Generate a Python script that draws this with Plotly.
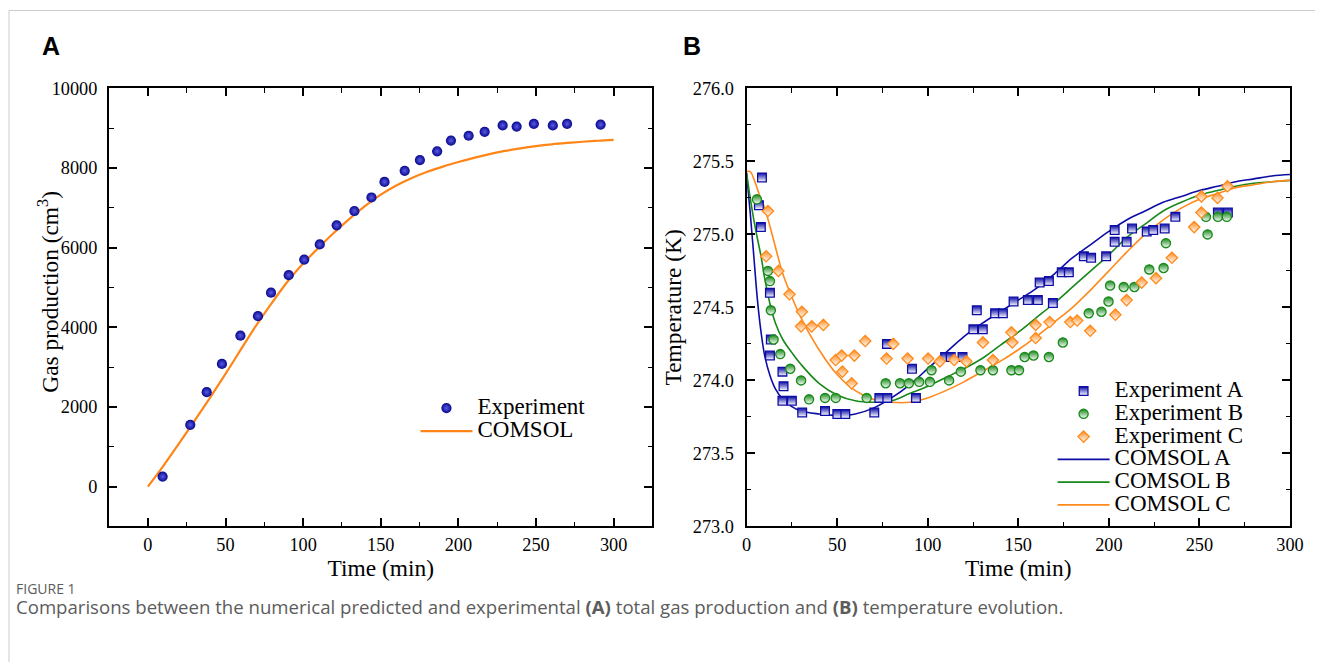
import plotly.graph_objects as go

W, H = 1329, 672

# ---------------- Panel A data ----------------
a_exp_t = [9.5, 27.3, 37.9, 47.7, 59.6, 70.9, 79.3, 90.7, 100.7, 110.7, 121.6, 133.0, 144.0,
           152.4, 165.4, 175.2, 186.3, 195.2, 206.6, 216.9, 228.5, 237.5, 248.6, 260.8, 270.0, 291.6]
a_exp_gas = [250, 1550, 2370, 3080, 3790, 4280, 4870, 5310, 5700, 6080, 6560, 6920, 7260,
             7650, 7930, 8200, 8420, 8690, 8810, 8910, 9070, 9040, 9110, 9070, 9110, 9090]
a_sim_t = [0, 10, 20, 30, 40, 50, 60, 70, 80, 90, 100, 110, 120, 130, 140, 150, 160, 170, 180,
           190, 200, 210, 220, 230, 240, 250, 260, 270, 280, 290, 300]
a_sim_gas = [0, 520, 1080, 1650, 2230, 2830, 3450, 4060, 4620, 5150, 5600, 6000, 6380, 6730,
             7050, 7330, 7560, 7750, 7905, 8035, 8150, 8255, 8350, 8430, 8495, 8550, 8595,
             8630, 8660, 8685, 8705]

# ---------------- Panel B data ----------------
b_expA_t = [6.8, 7.9, 8.5, 12.9, 13.4, 12.9, 19.8, 20.4, 19.8, 25.0, 30.7, 43.3, 50.1, 54.5,
            70.5, 73.3, 77.7, 77.5, 91.3, 93.5, 109.6, 112.7, 119.2, 125.2, 127.1, 130.4,
            137.2, 141.5, 147.4, 155.3, 160.8, 161.8, 166.9, 169.1, 174.0, 177.9, 186.2,
            190.2, 198.5, 203.2, 203.2, 209.8, 212.8, 220.9, 224.5, 230.8, 236.7, 260.2, 265.7]
b_expA_T = [275.20, 275.05, 275.39, 274.60, 274.28, 274.17, 274.06, 273.96, 273.86, 273.86,
            273.78, 273.79, 273.77, 273.77, 273.78, 273.88, 273.88, 274.25, 274.08, 273.88,
            274.16, 274.16, 274.16, 274.35, 274.48, 274.35, 274.46, 274.46, 274.54, 274.55,
            274.55, 274.67, 274.68, 274.53, 274.74, 274.74, 274.85, 274.84, 274.85, 274.95,
            275.03, 274.95, 275.04, 275.02, 275.03, 275.04, 275.12, 275.15, 275.15]

b_expB_t = [5.7, 11.8, 12.9, 13.4, 14.9, 18.6, 24.1, 30.1, 34.5, 43.3, 49.2, 66.3, 76.8, 84.7,
            89.6, 95.3, 101.2, 102.1, 111.8, 118.3, 129.1, 136.0, 146.2, 150.4, 153.5, 158.4,
            166.9, 174.6, 188.9, 195.9, 199.8, 200.7, 208.2, 214.1, 222.3, 230.2, 231.5,
            253.6, 254.5, 260.2, 265.1]
b_expB_T = [275.24, 274.75, 274.68, 274.48, 274.28, 274.18, 274.08, 274.00, 273.87, 273.88,
            273.88, 273.88, 273.98, 273.98, 273.98, 273.99, 273.99, 274.07, 274.00, 274.06,
            274.07, 274.07, 274.07, 274.07, 274.16, 274.17, 274.16, 274.26, 274.46, 274.47,
            274.54, 274.65, 274.64, 274.64, 274.76, 274.77, 274.94, 275.12, 275.00, 275.12,
            275.12]

b_expC_t = [11.8, 10.8, 17.6, 23.7, 30.5, 30.1, 36.0, 42.4, 49.2, 52.5, 52.9, 59.5, 58.0, 65.5,
            77.3, 81.0, 88.9, 100.2, 106.7, 114.6, 121.4, 130.5, 136.0, 146.2, 146.7, 159.6,
            159.6, 167.3, 178.7, 182.5, 189.7, 203.6, 209.8, 218.1, 226.0, 234.8, 247.1,
            251.1, 251.1, 260.0, 265.5]
b_expC_T = [275.16, 274.85, 274.75, 274.59, 274.47, 274.37, 274.37, 274.38, 274.14, 274.17,
            274.06, 274.17, 273.98, 274.27, 274.15, 274.25, 274.15, 274.15, 274.13, 274.14,
            274.13, 274.26, 274.14, 274.33, 274.26, 274.38, 274.29, 274.40, 274.40, 274.41,
            274.34, 274.45, 274.55, 274.67, 274.70, 274.84, 275.05, 275.15, 275.26, 275.25,
            275.33]

b_sim_t = [0, 2, 4, 6, 8, 10, 13, 16, 20, 25, 30, 40, 50, 60, 70, 80, 90, 100, 110, 120, 130,
           140, 150, 160, 170, 180, 190, 200, 210, 220, 230, 240, 250, 260, 270, 280, 290, 300]
b_simA_T = [275.42, 275.15, 274.85, 274.55, 274.33, 274.17, 274.03, 273.94, 273.87, 273.82,
            273.79, 273.77, 273.76, 273.77, 273.81, 273.88, 273.97, 274.08, 274.19, 274.30,
            274.39, 274.47, 274.55, 274.63, 274.73, 274.84, 274.93, 275.02, 275.10, 275.16,
            275.22, 275.26, 275.30, 275.33, 275.36, 275.38, 275.40, 275.41]
b_simB_T = [275.42, 275.25, 275.10, 274.97, 274.85, 274.70, 274.52, 274.39, 274.28, 274.19,
            274.11, 273.98, 273.90, 273.86, 273.85, 273.86, 273.91, 273.96, 274.02, 274.08,
            274.15, 274.24, 274.33, 274.43, 274.53, 274.64, 274.75, 274.86, 274.98, 275.07,
            275.16, 275.22, 275.27, 275.30, 275.33, 275.35, 275.36, 275.37]
b_simC_T = [275.43, 275.43, 275.38, 275.31, 275.24, 275.18, 275.05, 274.91, 274.73, 274.57,
            274.43, 274.21, 274.04, 273.93, 273.87, 273.85, 273.85, 273.88, 273.93, 273.99,
            274.06, 274.13, 274.21, 274.30, 274.40, 274.50, 274.62, 274.75, 274.88, 275.00,
            275.10, 275.18, 275.24, 275.28, 275.32, 275.34, 275.36, 275.37]

BLUE = "#0d0da6"
GREEN = "#18891a"
ORANGE = "#ff8a1c"
SERIF = "Liberation Serif"
LEG_PX = 23


# page-pixel helpers (layout only): map a target picture position to page position
def PX(x):
    return (x - 3) / 0.988


def PY(y):
    return (y - 10.8) / 0.968


def fx(x):
    return x / W


def fy(y):
    return 1 - y / H


fig = go.Figure()

# ---- Panel A traces ----
fig.add_trace(go.Scatter(
    x=a_sim_t, y=a_sim_gas, mode="lines", line=dict(color="#ff8518", width=2.2, shape="spline"),
    name=f"<span style='font-size:{LEG_PX}px'>COMSOL</span>", xaxis="x", yaxis="y",
    legend="legend", legendrank=2))
fig.add_trace(go.Scatter(
    x=a_exp_t, y=a_exp_gas, mode="markers",
    marker=dict(symbol="circle", size=10.2, color="#08088c",
                gradient=dict(type="radial", color="#5a5ae6"), line=dict(width=0)),
    name=f"<span style='font-size:{LEG_PX}px'>Experiment</span>", xaxis="x", yaxis="y",
    legend="legend", legendrank=1))

# ---- Panel B traces ----
for T, col, nm, rk in [(b_simA_T, BLUE, "COMSOL A", 4), (b_simB_T, GREEN, "COMSOL B", 5),
                       (b_simC_T, ORANGE, "COMSOL C", 6)]:
    fig.add_trace(go.Scatter(
        x=b_sim_t, y=T, mode="lines", line=dict(color=col, width=1.6, shape="spline"),
        name=f"<span style='font-size:{LEG_PX}px'>{nm}</span>", xaxis="x2", yaxis="y2",
        legend="legend2", legendrank=rk))

for tt, TT, col, sym, sz, nm, rk in [
        (b_expA_t, b_expA_T, BLUE, "square", 8.7, "Experiment A", 1),
        (b_expB_t, b_expB_T, GREEN, "circle", 9.2, "Experiment B", 2),
        (b_expC_t, b_expC_T, ORANGE, "diamond", 8.7, "Experiment C", 3)]:
    fig.add_trace(go.Scatter(
        x=tt, y=TT, mode="markers",
        marker=dict(symbol=sym, size=sz, color=col,
                    gradient=dict(type="vertical", color="white"),
                    line=dict(color=col, width=1.3)),
        name=f"<span style='font-size:{LEG_PX}px'>{nm}</span>", xaxis="x2", yaxis="y2",
        legend="legend2", legendrank=rk))

ax_common = dict(
    showline=True, linewidth=2, linecolor="black", mirror="allticks",
    ticks="inside", ticklen=8, tickwidth=1.6, tickcolor="black",
    showgrid=False, zeroline=False,
    tickfont=dict(family=SERIF, size=18.3, color="black"),
    title_font=dict(family=SERIF, size=23.4, color="black"),
)


def minor(d, t0):
    return dict(ticks="inside", ticklen=4.5, tickwidth=1.4, dtick=d, tick0=t0,
                tickcolor="black", showgrid=False)


xd_a = [fx(PX(107.3)), fx(PX(652))]
xd_b = [fx(PX(746.3)), fx(PX(1291))]
yd = [fy(PY(526)), fy(PY(89))]

fig.update_layout(
    width=W, height=H, margin=dict(l=0, r=0, t=0, b=0),
    paper_bgcolor="white", plot_bgcolor="white",
    showlegend=True,
    xaxis=dict(domain=xd_a, range=[-25, 325], tick0=0, dtick=50, minor=minor(25, 0),
               title=dict(text="Time (min)", standoff=3), ticklabelstandoff=1,
               anchor="y", **ax_common),
    yaxis=dict(domain=yd, range=[-1000, 10000], tick0=0, dtick=2000, tickformat="d",
               minor=minor(1000, 0), ticklabelstandoff=6, anchor="x", **ax_common),
    xaxis2=dict(domain=xd_b, range=[0, 300], tick0=0, dtick=50, minor=minor(25, 0),
                title=dict(text="Time (min)", standoff=3), ticklabelstandoff=1,
                anchor="y2", **ax_common),
    yaxis2=dict(domain=yd, range=[273, 276], tick0=273, dtick=0.5, tickformat=".1f",
                minor=minor(0.25, 273),
                title=dict(text="Temperature (K)", standoff=5),
                ticklabelstandoff=7, anchor="x2", **ax_common),
    legend=dict(x=fx(416.4), y=fy(393.3), xanchor="left", yanchor="top",
                bgcolor="rgba(0,0,0,0)", borderwidth=0, itemwidth=52,
                font=dict(family=SERIF, size=15.4, color="black"),
                traceorder="normal", itemclick=False),
    legend2=dict(x=fx(1062.8), y=fy(375.9), xanchor="left", yanchor="top",
                 bgcolor="rgba(0,0,0,0)", borderwidth=0, itemwidth=52,
                 font=dict(family=SERIF, size=15.2, color="black"),
                 traceorder="normal", itemclick=False),
)

caption = ("<span style='font-size:14px'>FIGURE 1</span><br>"
           "<span style='font-size:18.6px'>Comparisons between the numerical predicted and "
           "experimental <b>(A)</b> total gas production and <b>(B)</b> temperature "
           "evolution.</span>")

annotations = [
    dict(text="Gas production (cm<sup>3</sup>)", x=fx(43.5), y=fy(290.5), textangle=-90,
         xref="paper", yref="paper", xanchor="center", yanchor="middle", showarrow=False,
         font=dict(family=SERIF, size=23.4, color="black")),
    dict(text="<b>A</b>", x=fx(36), y=fy(36.7), xref="paper", yref="paper",
         xanchor="left", yanchor="middle", showarrow=False,
         font=dict(family="Liberation Sans", size=25, color="black")),
    dict(text="<b>B</b>", x=fx(686.1), y=fy(36.7), xref="paper", yref="paper",
         xanchor="left", yanchor="middle", showarrow=False,
         font=dict(family="Liberation Sans", size=25, color="black")),
    dict(text=caption, x=fx(9), y=fy(607.5), xref="paper", yref="paper", align="left",
         xanchor="left", yanchor="middle", showarrow=False,
         font=dict(family="Open Sans", size=15.2, color="#5c5c5c")),
]
fig.update_layout(annotations=annotations)

fig.update_layout(shapes=[
    dict(type="line", xref="paper", yref="paper", x0=fx(PX(7)), x1=1, y0=fy(0.5), y1=fy(0.5),
         line=dict(color="#cccccc", width=1)),
    dict(type="line", xref="paper", yref="paper", x0=fx(PX(7)), x1=fx(PX(7)), y0=0, y1=fy(0.5),
         line=dict(color="#cccccc", width=1)),
])

fig.write_html("out.html",
               config={"displayModeBar": False},
               post_script="document.body.style.margin='0px';"
                           "document.documentElement.style.overflow='hidden';"
                           "document.body.style.overflow='hidden';")
